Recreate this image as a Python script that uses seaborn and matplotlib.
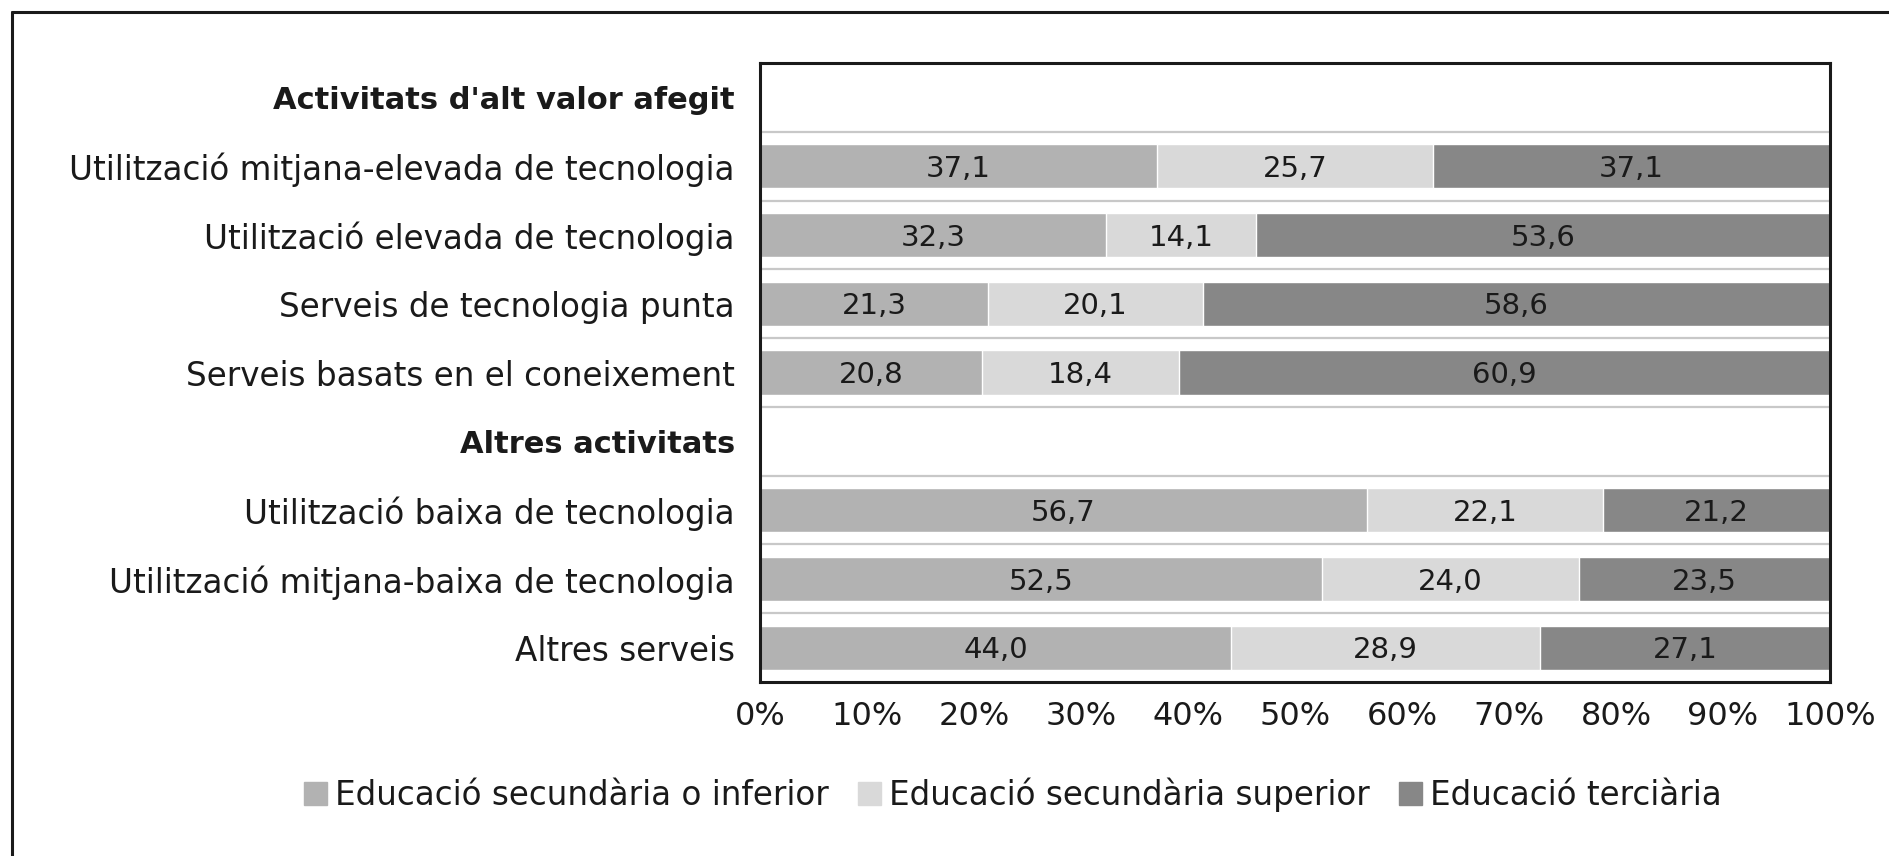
import numpy as np
import pandas as pd
import matplotlib
matplotlib.use("Agg")
import matplotlib.pyplot as plt
import seaborn as sns
from matplotlib.lines import Line2D
from matplotlib.patches import Patch

# dades
categories = [
    "Activitats d'alt valor afegit",
    "Utilització mitjana-elevada de tecnologia",
    "Utilització elevada de tecnologia",
    "Serveis de tecnologia punta",
    "Serveis basats en el coneixement",
    "Altres activitats",
    "Utilització baixa de tecnologia",
    "Utilització mitjana-baixa de tecnologia",
    "Altres serveis",
]
headers = ["Activitats d'alt valor afegit", "Altres activitats"]
series = ["Educació secundària o inferior",
          "Educació secundària superior",
          "Educació terciària"]
sec_inferior = [np.nan, 37.1, 32.3, 21.3, 20.8, np.nan, 56.7, 52.5, 44.0]
sec_superior = [np.nan, 25.7, 14.1, 20.1, 18.4, np.nan, 22.1, 24.0, 28.9]
terciaria = [np.nan, 37.1, 53.6, 58.6, 60.9, np.nan, 21.2, 23.5, 27.1]
xticks = [0, 10, 20, 30, 40, 50, 60, 70, 80, 90, 100]

colors = ["#b2b2b2", "#d9d9d9", "#878787"]
text_col = "#1a1a1a"

sns.set_style("white")
plt.rcParams['font.family'] = ['Liberation Sans Narrow', 'DejaVu Sans Condensed', 'DejaVu Sans']

vals = np.array([sec_inferior, sec_superior, terciaria])
pct = vals / np.nansum(vals, axis=0) * 100   # 100% apilat
ends = np.cumsum(pct, axis=0)
starts = ends - pct

fig = plt.figure(figsize=(18.9, 8.56), dpi=100)
ax = fig.add_axes([760/1890, 1 - 682/856, 1070/1890, 619/856])

# barres apilades: de la capa final a la primera
for k in [2, 1, 0]:
    df = pd.DataFrame({"cat": categories, "x": ends[k]})
    sns.barplot(data=df, x="x", y="cat", order=categories, color=colors[k],
                width=0.64, orient="h", saturation=1, ax=ax, zorder=2)

for k in range(3):
    for i, cat in enumerate(categories):
        if np.isnan(vals[k, i]):
            continue
        ax.text(starts[k, i] + pct[k, i] / 2, i + 0.04, f"{vals[k, i]:.1f}".replace(".", ","),
                ha="center", va="center", fontsize=21, color=text_col, zorder=3)

for y in np.arange(0.5, len(categories) - 1, 1):
    ax.axhline(y, color="#c8c8c8", lw=1.6, zorder=1)

ax.set_xlim(0, 100)
ax.set_ylim(len(categories) - 0.5, -0.5)
ax.set_xticks(xticks)
ax.set_xticklabels([f"{t}%" for t in xticks], fontsize=23, color=text_col)
ax.tick_params(axis="x", length=0, pad=14)
ax.tick_params(axis="y", length=0, pad=18, labelsize=23.5, labelcolor=text_col)
for lab in ax.get_yticklabels():
    if lab.get_text() in headers:
        lab.set_fontweight("bold")
        lab.set_fontsize(22)
ax.set_xlabel("")
ax.set_ylabel("")
for s in ax.spines.values():
    s.set_color(text_col)
    s.set_linewidth(2.2)

handles = [Patch(color=c, label=s) for c, s in zip(colors, series)]
fig.legend(handles=handles, loc="center", bbox_to_anchor=(0.536, 1 - 795/856), ncol=3,
           frameon=False, fontsize=23.5, handlelength=0.7, handleheight=0.7,
           handletextpad=0.25, columnspacing=0.9, labelcolor=text_col)

# vora exterior (esquerra i dalt)
fig.add_artist(Line2D([12/1890, 12/1890], [0, 1 - 12/856], color=text_col, lw=2.2,
                      transform=fig.transFigure))
fig.add_artist(Line2D([12/1890, 1], [1 - 12/856, 1 - 12/856], color=text_col, lw=2.2,
                      transform=fig.transFigure))

fig.savefig("out.png", dpi=100)
